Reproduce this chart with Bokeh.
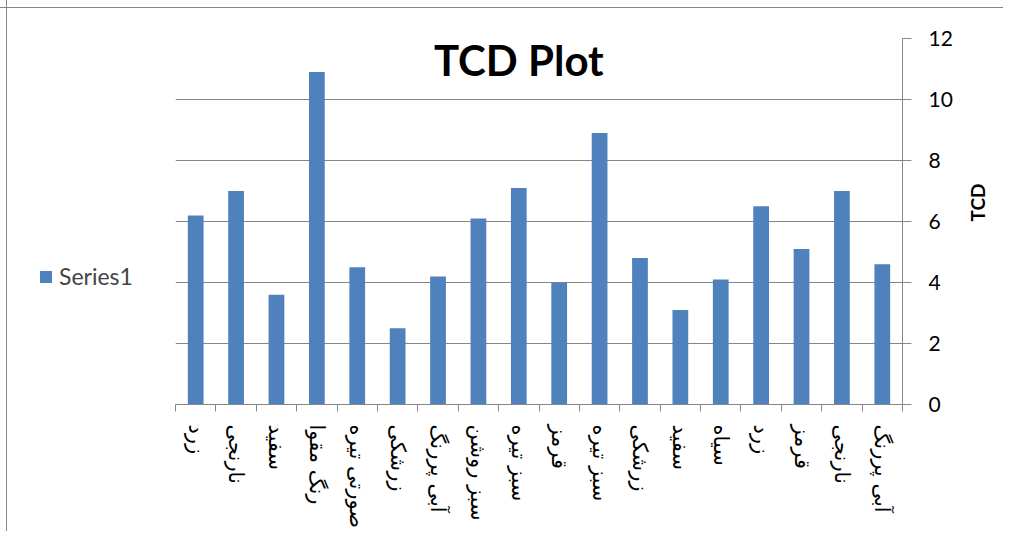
import math
from bokeh.plotting import figure
from bokeh.layouts import row
from bokeh.models import Range1d, LinearAxis, FixedTicker, Label, Legend, LegendItem
from bokeh.embed import file_html
from bokeh.resources import INLINE

categories = ["زرد", "نارنجی", "سفید", "رنگ مقوا", "صورتی تیره", "زرشکی",
              "آبی پررنگ", "سبز روشن", "سبز تیره", "قرمز", "سبز تیره", "زرشکی",
              "سفید", "سیاه", "زرد", "قرمز", "نارنجی", "آبی پررنگ"]
values = [6.2, 7.0, 3.6, 10.9, 4.5, 2.5, 4.2, 6.1, 7.1, 4.0, 8.9, 4.8,
          3.1, 4.1, 6.5, 5.1, 7.0, 4.6]
y_ticks = [0, 2, 4, 6, 8, 10, 12]
series_name = "Series1"
title_text = "TCD Plot"
y_title = "TCD"

GRAY = "#868686"
BAR = "#4F81BD"
n = len(categories)
xs = list(range(n))

# ---- main chart ----
p = figure(width=834, height=531,
           x_range=Range1d(-0.5, n - 0.5), y_range=Range1d(0, 12),
           x_axis_type=None, y_axis_location="right",
           output_backend="svg", toolbar_location=None,
           min_border_left=6, min_border_right=101,
           min_border_top=38, min_border_bottom=126)
p.outline_line_color = None
p.border_fill_color = None
p.background_fill_color = None

r = p.vbar(x=xs, top=values, width=0.39, fill_color=BAR, line_color=None)

yt = FixedTicker(ticks=y_ticks, minor_ticks=[])
p.yaxis.ticker = yt
p.ygrid.ticker = yt
p.ygrid.grid_line_color = GRAY
p.ygrid.grid_line_width = 1
ya = p.yaxis[0]
ya.axis_line_color = GRAY
ya.major_tick_line_color = GRAY
ya.major_tick_out = 9
ya.major_tick_in = 0
ya.minor_tick_line_color = None
ya.major_label_text_font = "Lato"
ya.major_label_text_font_size = "21px"
ya.major_label_text_color = "black"
ya.major_label_standoff = 17
ya.axis_label = y_title
ya.axis_label_text_font = "Lato"
ya.axis_label_text_font_style = "bold"
ya.axis_label_text_font_size = "19px"
ya.axis_label_text_color = "black"
ya.axis_label_standoff = 22
if "axis_label_orientation" in ya.properties():
    ya.axis_label_orientation = math.pi / 2

xa = LinearAxis(
    ticker=FixedTicker(ticks=xs, minor_ticks=[i - 0.5 for i in range(n + 1)]),
    major_label_overrides={i: c for i, c in enumerate(categories)},
    major_tick_line_color=None,
    minor_tick_line_color=GRAY, minor_tick_out=7, minor_tick_in=0,
    axis_line_color=GRAY,
    major_label_orientation="vertical",
    major_label_standoff=13,
    major_label_text_font="DejaVu Sans",
    major_label_text_font_size="21px",
    major_label_text_color="black",
)
p.add_layout(xa, "below")

p.add_layout(Label(x=8.0, y=11.3, text=title_text, text_font="Lato",
                   text_font_style="bold", text_font_size="42px",
                   text_align="center", text_baseline="middle",
                   text_color="black"))

# ---- legend panel on the left ----
lp = figure(width=169, height=531, x_range=Range1d(0, 1), y_range=Range1d(0, 1),
            x_axis_type=None, y_axis_type=None, output_backend="svg",
            toolbar_location=None, min_border=0)
lp.outline_line_color = None
lp.border_fill_color = None
lp.background_fill_color = None
# legend proxy (zero-height, outside the visible range)
lr = lp.vbar(x=[-10], top=[0], width=0.5, fill_color=BAR, line_color=None)
legend = Legend(items=[LegendItem(label=series_name, renderers=[lr])],
                location=(38, 114), border_line_color=None,
                background_fill_alpha=0, padding=0, margin=0, spacing=0,
                glyph_width=15, glyph_height=15, label_standoff=6,
                label_height=26, label_text_font="Lato",
                label_text_font_size="23px")
lp.add_layout(legend)

layout = row(lp, p)
# chart-area frame: a thin line on the left and on the top only
layout.styles = {
    "background": ("linear-gradient(#868686, #868686) 6px 0 / 1px 100% no-repeat, "
                   "linear-gradient(#868686, #868686) 0 7px / 100% 1px no-repeat"),
}
open("out.html", "w").write(file_html(layout, INLINE))
